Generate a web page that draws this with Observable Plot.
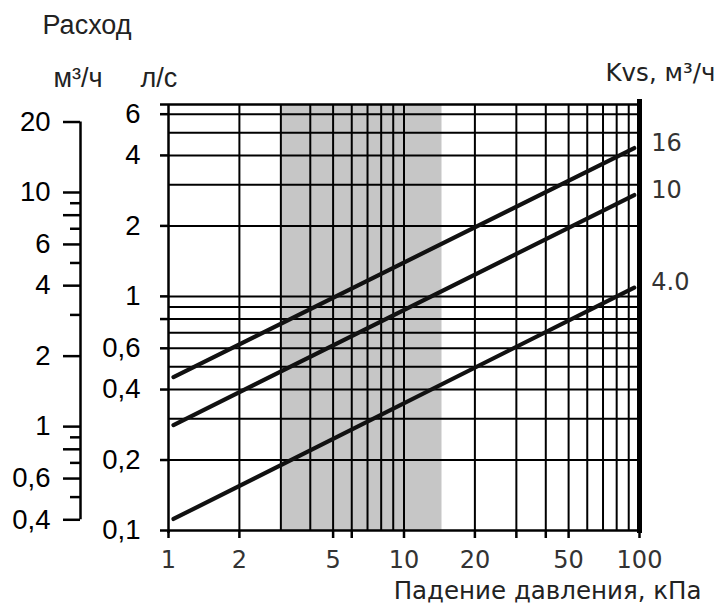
<!DOCTYPE html>
<html>
<head>
<meta charset="utf-8">
<script src="https://cdn.jsdelivr.net/npm/d3@7"></script>
<script src="https://cdn.jsdelivr.net/npm/@observablehq/plot@0.6"></script>
<style>
  html, body { margin: 0; padding: 0; background: #fff; }
  #chart svg { display: block; }
</style>
</head>
<body>
<div id="chart"></div>
<script>
// ---- data ----
const pressure = [1.05, 95];               // kPa, start/end of each line
const kvsNames = ["16", "10", "4.0"];
const flow16 = [0.452, 4.3];               // l/s
const flow10 = [0.282, 2.71];
const flow4  = [0.112, 1.09];

const xDomain = [1, 100];
const yDomain = [0.1, 6.6];
const band = [3, 14.5];                    // shaded region, kPa

const xGrid = [2, 3, 4, 5, 6, 7, 8, 9, 10, 20, 30, 40, 50, 60, 70, 80, 90];
const xTickMarks = [1, 2, 5, 6, 10, 20, 30, 40, 50, 100];
const xLabels = [1, 2, 5, 10, 20, 50, 100];

const yGrid = [0.2, 0.3, 0.4, 0.5, 0.6, 0.7, 0.8, 0.9, 1, 2, 3, 4, 5, 6];
const yTickMarks = [0.1, 0.2, 0.4, 0.6, 0.8, 1, 2, 4, 6, 6.6];
const yLabels = [0.1, 0.2, 0.4, 0.6, 1, 2, 4, 6];

const m3hMajor = [0.4, 0.6, 0.8, 1, 2, 4, 6, 8, 10, 20];
const m3hMinor = [0.5, 0.7, 0.9, 3, 5, 7, 9];
const m3hLabels = [0.4, 0.6, 1, 2, 4, 6, 10, 20];
const M3H_PER_LS = 3.6;  // unit conversion l/s -> m3/h

// ---- table ----
const series = [flow16, flow10, flow4];
const lines = [];
series.forEach((f, k) => pressure.forEach((p, i) => lines.push({kvs: kvsNames[k], p, q: f[i]})));
const ends = lines.filter((d, i) => i % 2 === 1);

const comma = d => String(d).replace(".", ",");
const leftFont = "Liberation Sans, Arial, sans-serif";
const rightFont = "DejaVu Sans, sans-serif";

// layout
const W = 716, H = 608, ML = 168, MR = 77, MT = 104, MB = 78;
const FW = W - ML - MR, FH = H - MT - MB;
const m3hX = 80;                       // pixel position of the m3/h axis line

const chart = Plot.plot({
  width: W,
  height: H,
  marginLeft: ML,
  marginRight: MR,
  marginTop: MT,
  marginBottom: MB,
  x: {type: "log", domain: xDomain, axis: null},
  y: {type: "log", domain: yDomain, axis: null},
  style: {background: "#fff", overflow: "visible"},
  marks: [
    Plot.rect([band], {x1: d => d[0], x2: d => d[1], fill: "#c6c6c6"}),
    Plot.ruleX(xGrid, {stroke: "#000", strokeWidth: 2}),
    Plot.ruleY(yGrid, {stroke: "#000", strokeWidth: 2}),
    // frame
    Plot.ruleY([yDomain[0], yDomain[1]], {stroke: "#000", strokeWidth: 2.5}),
    Plot.ruleX([xDomain[0]], {stroke: "#000", strokeWidth: 2.5, insetBottom: -3}),
    Plot.ruleX([xDomain[1]], {stroke: "#000", strokeWidth: 5, insetTop: -5, insetBottom: -3}),
    // tick marks (outward)
    Plot.ruleX(xTickMarks, {stroke: "#000", strokeWidth: 2.5, insetTop: FH, insetBottom: -8}),
    Plot.ruleY(yTickMarks, {stroke: "#000", strokeWidth: 2.5, insetLeft: -8, insetRight: FW}),
    // m3/h axis
    Plot.ruleY(m3hMajor, {y: d => d / M3H_PER_LS, stroke: "#000", strokeWidth: 2.5,
      insetLeft: m3hX - ML - 17, insetRight: FW + ML - m3hX}),
    Plot.ruleY(m3hMinor, {y: d => d / M3H_PER_LS, stroke: "#000", strokeWidth: 2.5,
      insetLeft: m3hX - ML - 10, insetRight: FW + ML - m3hX}),
    Plot.ruleX([m3hMajor], {x: null, y1: d => d[0] / M3H_PER_LS, y2: d => d[d.length - 1] / M3H_PER_LS,
      dx: m3hX - (ML + FW / 2), stroke: "#000", strokeWidth: 2.5}),
    Plot.text(m3hLabels, {y: d => d / M3H_PER_LS, text: comma, frameAnchor: "left", textAnchor: "end",
      lineAnchor: "middle", dx: m3hX - ML - 17 - 13, fontSize: 27.5, fontFamily: leftFont, fill: "#000"}),
    // curves
    Plot.line(lines, {x: "p", y: "q", z: "kvs", stroke: "#111", strokeWidth: 4.2}),
    Plot.text(ends, {x: "p", y: "q", text: "kvs", textAnchor: "start", lineAnchor: "middle", dx: 17, dy: -5,
      fontSize: 24, fontFamily: rightFont, fill: "#333"}),
    // tick labels
    Plot.text(yLabels, {y: d => d, text: comma, frameAnchor: "left", textAnchor: "end", lineAnchor: "middle",
      dx: -28, fontSize: 27.5, fontFamily: leftFont, fill: "#000"}),
    Plot.text(xLabels, {x: d => d, text: d => String(d), frameAnchor: "bottom", lineAnchor: "middle", dy: 30,
      fontSize: 24, fontFamily: rightFont, fill: "#333"}),
    // titles
    Plot.text(["Расход"], {frameAnchor: "top-left", textAnchor: "start", lineAnchor: "middle", dx: -126, dy: -79,
      fontSize: 27, fontFamily: leftFont, fill: "#222"}),
    Plot.text(["м³/ч"], {frameAnchor: "top-left", textAnchor: "start", lineAnchor: "middle", dx: -115, dy: -26,
      fontSize: 27, fontFamily: leftFont, fill: "#222"}),
    Plot.text(["л/с"], {frameAnchor: "top-left", textAnchor: "start", lineAnchor: "middle", dx: -28, dy: -26,
      fontSize: 27, fontFamily: leftFont, fill: "#222"}),
    Plot.text(["Kvs, м³/ч"], {frameAnchor: "top-right", textAnchor: "end", lineAnchor: "middle", dx: 76, dy: -31,
      fontSize: 24.5, fontFamily: rightFont, fill: "#222"}),
    Plot.text(["Падение давления, кПа"], {frameAnchor: "bottom-right", textAnchor: "end", lineAnchor: "middle",
      dx: 62, dy: 61, fontSize: 24.5, fontFamily: rightFont, fill: "#222"})
  ]
});
document.getElementById("chart").appendChild(chart);
</script>
</body>
</html>
